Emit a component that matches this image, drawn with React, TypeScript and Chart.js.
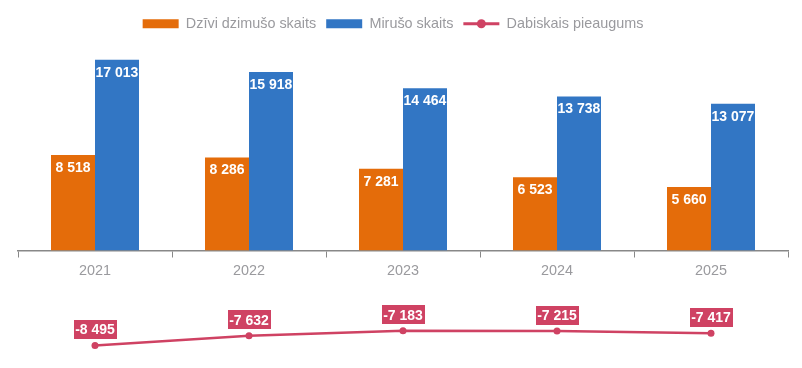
import React, { useEffect, useRef } from "react";
import { Chart, registerables } from "chart.js";

Chart.register(...registerables);

const categories = ["2021", "2022", "2023", "2024", "2025"];
const births = [8518, 8286, 7281, 6523, 5660];
const deaths = [17013, 15918, 14464, 13738, 13077];
const naturalIncrease = [-8495, -7632, -7183, -7215, -7417];
const seriesNames = ["Dzīvi dzimušo skaits", "Mirušo skaits", "Dabiskais pieaugums"];

const ORANGE = "#E46C0A";
const BLUE = "#3276C4";
const RED = "#CF4263";
const GRAY_TEXT = "#9A9A9E";
const FONT = "'Liberation Sans', Arial, sans-serif";

function fmt(n: number): string {
  const s = Math.abs(n).toString().replace(/\B(?=(\d{3})+(?!\d))/g, " ");
  return (n < 0 ? "-" : "") + s;
}

const labelPlugin = {
  id: "valueLabels",
  afterLayout(chart: any) {
    const lg = chart.legend;
    if (lg) {
      lg.left -= 10;
      lg.right -= 10;
    }
  },
  afterDatasetsDraw(chart: any) {
    const ctx = chart.ctx;
    ctx.save();
    ctx.font = `bold 14px ${FONT}`;
    ctx.textAlign = "center";
    ctx.textBaseline = "middle";
    chart.data.datasets.forEach((ds: any, di: number) => {
      const meta = chart.getDatasetMeta(di);
      meta.data.forEach((el: any, i: number) => {
        const v = ds.data[i];
        const txt = fmt(v);
        if (ds.type === "line") {
          const w = ctx.measureText(txt).width + 3;
          const h = 19;
          const cy = el.y - 16;
          ctx.fillStyle = RED;
          ctx.fillRect(Math.round(el.x - w / 2), Math.round(cy - h / 2), Math.round(w), h);
          ctx.fillStyle = "#ffffff";
          ctx.fillText(txt, el.x, cy + 1);
        } else {
          ctx.fillStyle = "#ffffff";
          ctx.fillText(txt, el.x, el.y + 13);
        }
      });
    });
    ctx.restore();
  },
  afterDraw(chart: any) {
    const legend = chart.legend;
    if (!legend || !legend.legendHitBoxes || legend.legendHitBoxes.length < 3) return;
    const hb = legend.legendHitBoxes[2];
    const ctx = chart.ctx;
    const bw = legend.options.labels.boxWidth;
    const cy = hb.top + hb.height / 2;
    ctx.save();
    ctx.strokeStyle = RED;
    ctx.lineWidth = 3;
    ctx.beginPath();
    ctx.moveTo(hb.left, cy);
    ctx.lineTo(hb.left + bw, cy);
    ctx.stroke();
    ctx.fillStyle = RED;
    ctx.beginPath();
    ctx.arc(hb.left + bw / 2, cy, 4.5, 0, Math.PI * 2);
    ctx.fill();
    ctx.restore();
  },
};

export default function App() {
  const ref = useRef<HTMLCanvasElement | null>(null);
  useEffect(() => {
    if (!ref.current) return;
    const chart = new Chart(ref.current, {
      type: "bar",
      data: {
        labels: categories,
        datasets: [
          {
            type: "bar",
            label: seriesNames[0],
            data: births,
            backgroundColor: ORANGE,
            borderWidth: 0,
            categoryPercentage: 0.5714,
            barPercentage: 1,
          },
          {
            type: "bar",
            label: seriesNames[1],
            data: deaths,
            backgroundColor: BLUE,
            borderWidth: 0,
            categoryPercentage: 0.5714,
            barPercentage: 1,
          },
          {
            type: "line",
            label: seriesNames[2],
            data: naturalIncrease,
            borderColor: RED,
            backgroundColor: RED,
            borderWidth: 2.5,
            pointRadius: 3.5,
            pointBackgroundColor: RED,
            pointBorderWidth: 0,
            tension: 0,
          } as any,
        ],
      },
      options: {
        animation: false,
        responsive: true,
        maintainAspectRatio: false,
        layout: { padding: { left: 18, right: 14, top: 6.5, bottom: 5.5 } },
        plugins: {
          tooltip: { enabled: false },
          legend: {
            display: true,
            position: "top",
            labels: {
              boxWidth: 36,
              boxHeight: 9,
              padding: 10,
              color: GRAY_TEXT,
              font: { family: FONT, size: 14.4 },
              generateLabels: (chart: any) =>
                chart.data.datasets.map((ds: any, i: number) => ({
                  text: ds.label,
                  fillStyle: ds.type === "line" ? "rgba(0,0,0,0)" : ds.backgroundColor,
                  strokeStyle: "rgba(0,0,0,0)",
                  lineWidth: 0,
                  hidden: false,
                  datasetIndex: i,
                  fontColor: GRAY_TEXT,
                })),
            },
          },
        },
        scales: {
          x: {
            position: { y: 0 } as any,
            grid: {
              display: true,
              drawOnChartArea: false,
              drawTicks: true,
              tickLength: 6,
              color: "#888888",
              offset: true,
            },
            border: { display: true, color: "#888888", width: 1.5 },
            ticks: {
              color: GRAY_TEXT,
              font: { family: FONT, size: 14.4 },
              padding: 6,
            },
          },
          y: {
            display: false,
            min: -10020,
            max: 18700,
          },
        },
      },
      plugins: [labelPlugin],
    });
    return () => chart.destroy();
  }, []);
  return (
    <div style={{ position: "absolute", left: 0, top: 0, width: 802, height: 368 }}>
      <canvas ref={ref} />
    </div>
  );
}
